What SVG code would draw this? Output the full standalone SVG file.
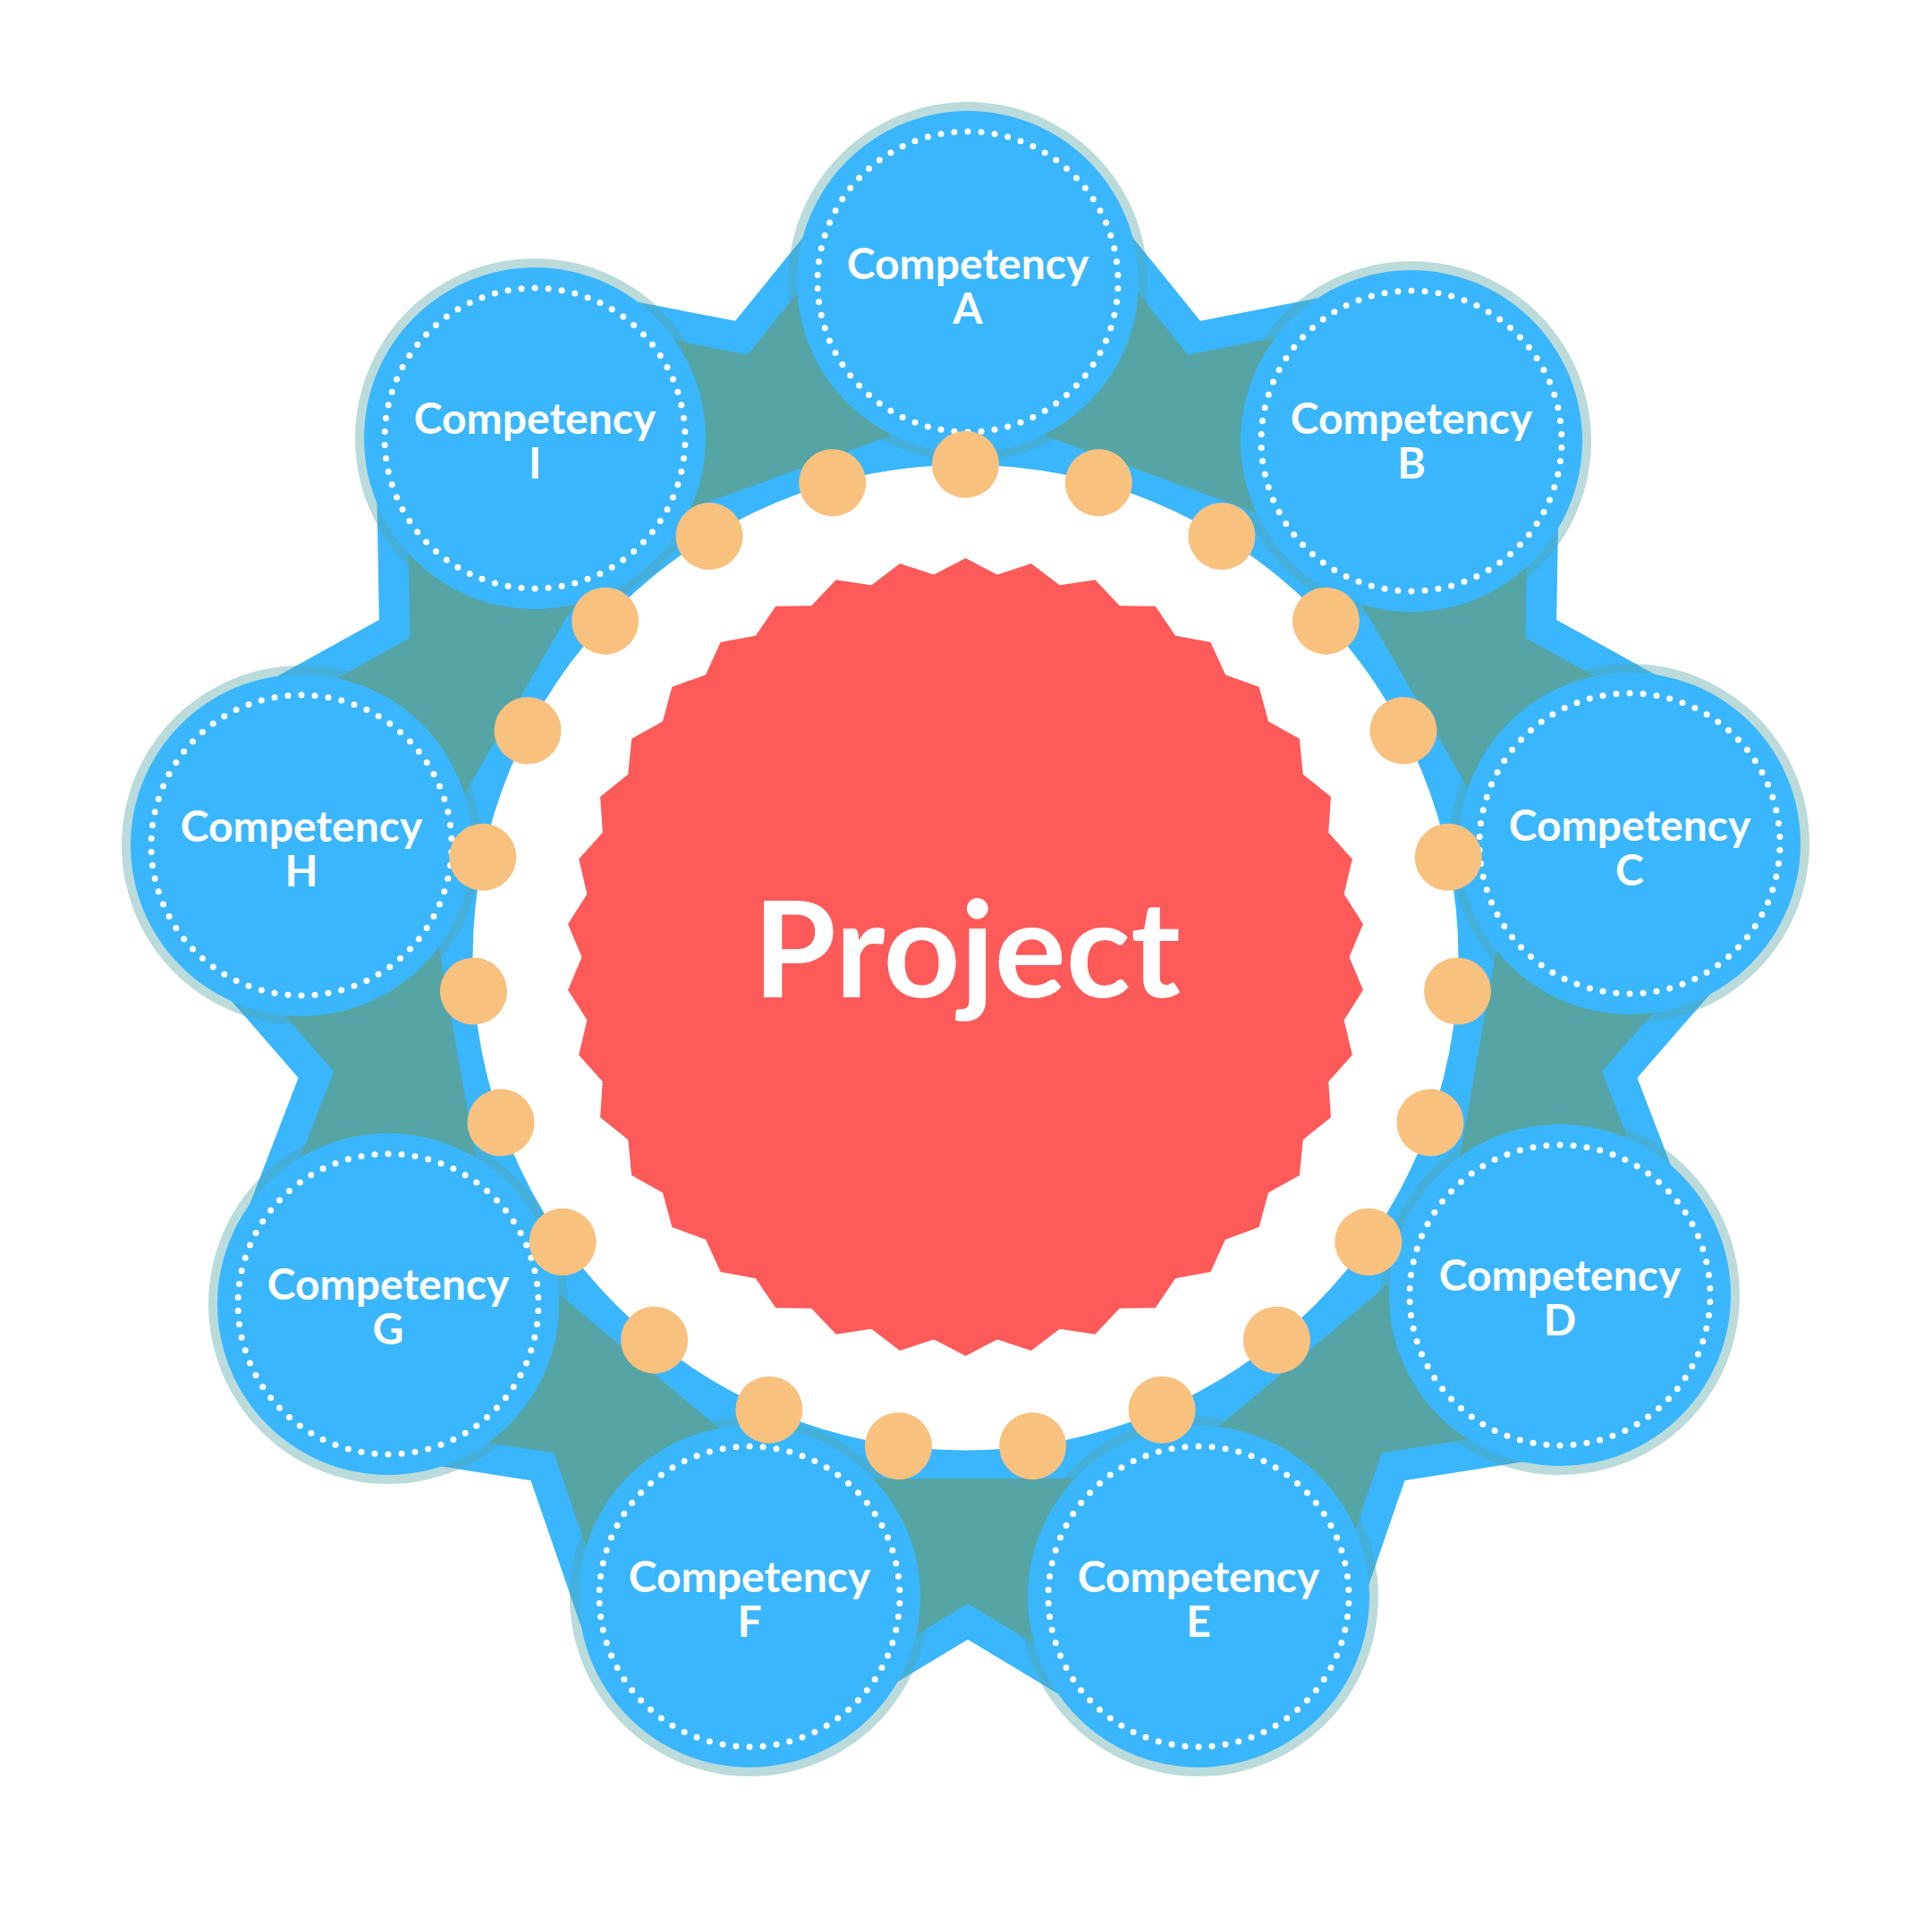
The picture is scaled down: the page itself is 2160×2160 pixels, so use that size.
<svg xmlns="http://www.w3.org/2000/svg" xmlns:xlink="http://www.w3.org/1999/xlink" width="2160" height="2160" viewBox="0 0 2160 2160">
<style>
.star{fill:#3AB6FE}
.teal{fill:#56A5A6}
.halo{fill:#56A5A6;fill-opacity:0.4}
.disc{fill:#3AB6FE}
.dots{fill:none;stroke:#FFFFFF;stroke-width:7;stroke-linecap:round;stroke-dasharray:0 2;stroke-dashoffset:1}
.lbl{font-family:Lato,'Noto Sans',sans-serif;font-weight:700;font-size:48px;fill:#FFFFFF;text-anchor:middle}
.title{font-family:Lato,'Noto Sans',sans-serif;font-weight:700;font-size:150px;fill:#FFFFFF;text-anchor:middle}
.bead{fill:#F8C17E}
.burst{fill:#FE5A59}
</style>
<defs>
<polygon id="tooth" class="burst" points="1044.07,642.47 1079.5,624 1114.93,642.47 1079.5,690"/>
<circle id="bead" class="bead" cx="1079.5" cy="519.2" r="37.5"/>
</defs>
<rect width="2160" height="2160" fill="#FFFFFF"/>
<g id="connectors" transform="translate(2.5 2.5)">
<polygon class="star" points="819.56,356.33 943.45,203.33 1079.5,313.5 1215.55,203.33 1339.44,356.33 1532.69,318.76 1566.09,490.61 1741.13,493.66 1737.68,690.49 1909.87,785.94 1825.0,939.05 1957.13,1053.9 1827.96,1202.47 1898.53,1386.27 1735.08,1449.0 1762.47,1621.91 1568.02,1652.69 1503.93,1838.84 1338.41,1781.85 1248.25,1931.9 1079.5,1830.51 910.75,1931.9 820.59,1781.85 655.07,1838.84 590.98,1652.71 396.53,1621.91 423.92,1449.0 260.47,1386.27 331.04,1202.47 201.87,1053.9 334.0,939.05 249.13,785.94 421.32,690.51 417.87,493.66 592.91,490.61 626.31,318.76"/>
<polygon class="teal" points="833.25,393.92 970.11,224.91 1079.5,313.5 1188.89,224.91 1325.76,393.92 1539.24,352.43 1566.09,490.61 1706.84,493.05 1703.04,710.5 1893.25,815.93 1825.0,939.05 1931.25,1031.39 1788.57,1195.53 1866.51,1398.57 1735.08,1449.0 1757.11,1588.03 1542.3,1622.06 1471.5,1827.68 1338.41,1781.85 1265.92,1902.5 1079.5,1790.5 893.08,1902.5 820.59,1781.85 687.5,1827.68 616.69,1622.05 401.89,1588.03 423.92,1449.0 292.49,1398.57 370.44,1195.52 227.75,1031.39 334.0,939.05 265.75,815.93 455.96,710.5 452.16,493.05 592.91,490.61 619.76,352.43"/>
<polygon class="star" points="1079.5,453.3 1476.22,597.7 1687.32,963.32 1614.01,1379.1 1290.6,1650.48 868.4,1650.48 544.99,1379.1 471.68,963.32 682.78,597.7"/>
</g>
<g id="node-A">
<circle class="halo" cx="1082" cy="315" r="201"/>
<circle class="disc" cx="1082" cy="315" r="191"/>
<circle class="dots" cx="1082" cy="315" r="168" pathLength="140"/>
<text class="lbl" x="1082" y="312">Competency<tspan x="1082" dy="50">A</tspan></text>
</g>
<g id="node-B">
<circle class="halo" cx="1578" cy="493" r="201"/>
<circle class="disc" cx="1578" cy="493" r="191"/>
<circle class="dots" cx="1578" cy="493" r="168" pathLength="140"/>
<text class="lbl" x="1578" y="485">Competency<tspan x="1578" dy="50">B</tspan></text>
</g>
<g id="node-C">
<circle class="halo" cx="1822" cy="943" r="201"/>
<circle class="disc" cx="1822" cy="943" r="191"/>
<circle class="dots" cx="1822" cy="943" r="168" pathLength="140"/>
<text class="lbl" x="1822" y="940">Competency<tspan x="1822" dy="50">C</tspan></text>
</g>
<g id="node-D">
<circle class="halo" cx="1744" cy="1448" r="201"/>
<circle class="disc" cx="1744" cy="1448" r="191"/>
<circle class="dots" cx="1744" cy="1448" r="168" pathLength="140"/>
<text class="lbl" x="1744" y="1443">Competency<tspan x="1744" dy="50">D</tspan></text>
</g>
<g id="node-E">
<circle class="halo" cx="1340" cy="1785" r="201"/>
<circle class="disc" cx="1340" cy="1785" r="191"/>
<circle class="dots" cx="1340" cy="1785" r="168" pathLength="140"/>
<text class="lbl" x="1340" y="1780">Competency<tspan x="1340" dy="50">E</tspan></text>
</g>
<g id="node-F">
<circle class="halo" cx="838" cy="1785" r="201"/>
<circle class="disc" cx="838" cy="1785" r="191"/>
<circle class="dots" cx="838" cy="1785" r="168" pathLength="140"/>
<text class="lbl" x="838" y="1780">Competency<tspan x="838" dy="50">F</tspan></text>
</g>
<g id="node-G">
<circle class="halo" cx="434" cy="1458" r="201"/>
<circle class="disc" cx="434" cy="1458" r="191"/>
<circle class="dots" cx="434" cy="1458" r="168" pathLength="140"/>
<text class="lbl" x="434" y="1453">Competency<tspan x="434" dy="50">G</tspan></text>
</g>
<g id="node-H">
<circle class="halo" cx="337" cy="945" r="201"/>
<circle class="disc" cx="337" cy="945" r="191"/>
<circle class="dots" cx="337" cy="945" r="168" pathLength="140"/>
<text class="lbl" x="337" y="941">Competency<tspan x="337" dy="50">H</tspan></text>
</g>
<g id="node-I">
<circle class="halo" cx="598" cy="490" r="201"/>
<circle class="disc" cx="598" cy="490" r="191"/>
<circle class="dots" cx="598" cy="490" r="168" pathLength="140"/>
<text class="lbl" x="598" y="485">Competency<tspan x="598" dy="50">I</tspan></text>
</g>
<g id="hub">
<circle cx="1079.5" cy="1070.5" r="551" fill="#FFFFFF"/>
<use xlink:href="#bead"/>
<use xlink:href="#bead" transform="rotate(15.6522 1079.5 1070.5)"/>
<use xlink:href="#bead" transform="rotate(31.3043 1079.5 1070.5)"/>
<use xlink:href="#bead" transform="rotate(46.9565 1079.5 1070.5)"/>
<use xlink:href="#bead" transform="rotate(62.6087 1079.5 1070.5)"/>
<use xlink:href="#bead" transform="rotate(78.2609 1079.5 1070.5)"/>
<use xlink:href="#bead" transform="rotate(93.9130 1079.5 1070.5)"/>
<use xlink:href="#bead" transform="rotate(109.5652 1079.5 1070.5)"/>
<use xlink:href="#bead" transform="rotate(125.2174 1079.5 1070.5)"/>
<use xlink:href="#bead" transform="rotate(140.8696 1079.5 1070.5)"/>
<use xlink:href="#bead" transform="rotate(156.5217 1079.5 1070.5)"/>
<use xlink:href="#bead" transform="rotate(172.1739 1079.5 1070.5)"/>
<use xlink:href="#bead" transform="rotate(187.8261 1079.5 1070.5)"/>
<use xlink:href="#bead" transform="rotate(203.4783 1079.5 1070.5)"/>
<use xlink:href="#bead" transform="rotate(219.1304 1079.5 1070.5)"/>
<use xlink:href="#bead" transform="rotate(234.7826 1079.5 1070.5)"/>
<use xlink:href="#bead" transform="rotate(250.4348 1079.5 1070.5)"/>
<use xlink:href="#bead" transform="rotate(266.0870 1079.5 1070.5)"/>
<use xlink:href="#bead" transform="rotate(281.7391 1079.5 1070.5)"/>
<use xlink:href="#bead" transform="rotate(297.3913 1079.5 1070.5)"/>
<use xlink:href="#bead" transform="rotate(313.0435 1079.5 1070.5)"/>
<use xlink:href="#bead" transform="rotate(328.6957 1079.5 1070.5)"/>
<use xlink:href="#bead" transform="rotate(344.3478 1079.5 1070.5)"/>
</g>
<g id="project">
<circle class="burst" cx="1079.5" cy="1070" r="429"/>
<use xlink:href="#tooth"/>
<use xlink:href="#tooth" transform="rotate(9.4737 1079.5 1070)"/>
<use xlink:href="#tooth" transform="rotate(18.9474 1079.5 1070)"/>
<use xlink:href="#tooth" transform="rotate(28.4211 1079.5 1070)"/>
<use xlink:href="#tooth" transform="rotate(37.8947 1079.5 1070)"/>
<use xlink:href="#tooth" transform="rotate(47.3684 1079.5 1070)"/>
<use xlink:href="#tooth" transform="rotate(56.8421 1079.5 1070)"/>
<use xlink:href="#tooth" transform="rotate(66.3158 1079.5 1070)"/>
<use xlink:href="#tooth" transform="rotate(75.7895 1079.5 1070)"/>
<use xlink:href="#tooth" transform="rotate(85.2632 1079.5 1070)"/>
<use xlink:href="#tooth" transform="rotate(94.7368 1079.5 1070)"/>
<use xlink:href="#tooth" transform="rotate(104.2105 1079.5 1070)"/>
<use xlink:href="#tooth" transform="rotate(113.6842 1079.5 1070)"/>
<use xlink:href="#tooth" transform="rotate(123.1579 1079.5 1070)"/>
<use xlink:href="#tooth" transform="rotate(132.6316 1079.5 1070)"/>
<use xlink:href="#tooth" transform="rotate(142.1053 1079.5 1070)"/>
<use xlink:href="#tooth" transform="rotate(151.5789 1079.5 1070)"/>
<use xlink:href="#tooth" transform="rotate(161.0526 1079.5 1070)"/>
<use xlink:href="#tooth" transform="rotate(170.5263 1079.5 1070)"/>
<use xlink:href="#tooth" transform="rotate(180 1079.5 1070)"/>
<use xlink:href="#tooth" transform="rotate(189.4737 1079.5 1070)"/>
<use xlink:href="#tooth" transform="rotate(198.9474 1079.5 1070)"/>
<use xlink:href="#tooth" transform="rotate(208.4211 1079.5 1070)"/>
<use xlink:href="#tooth" transform="rotate(217.8947 1079.5 1070)"/>
<use xlink:href="#tooth" transform="rotate(227.3684 1079.5 1070)"/>
<use xlink:href="#tooth" transform="rotate(236.8421 1079.5 1070)"/>
<use xlink:href="#tooth" transform="rotate(246.3158 1079.5 1070)"/>
<use xlink:href="#tooth" transform="rotate(255.7895 1079.5 1070)"/>
<use xlink:href="#tooth" transform="rotate(265.2632 1079.5 1070)"/>
<use xlink:href="#tooth" transform="rotate(274.7368 1079.5 1070)"/>
<use xlink:href="#tooth" transform="rotate(284.2105 1079.5 1070)"/>
<use xlink:href="#tooth" transform="rotate(293.6842 1079.5 1070)"/>
<use xlink:href="#tooth" transform="rotate(303.1579 1079.5 1070)"/>
<use xlink:href="#tooth" transform="rotate(312.6316 1079.5 1070)"/>
<use xlink:href="#tooth" transform="rotate(322.1053 1079.5 1070)"/>
<use xlink:href="#tooth" transform="rotate(331.5789 1079.5 1070)"/>
<use xlink:href="#tooth" transform="rotate(341.0526 1079.5 1070)"/>
<use xlink:href="#tooth" transform="rotate(350.5263 1079.5 1070)"/>
<text class="title" x="1081" y="1115">Project</text>
</g>
</svg>
